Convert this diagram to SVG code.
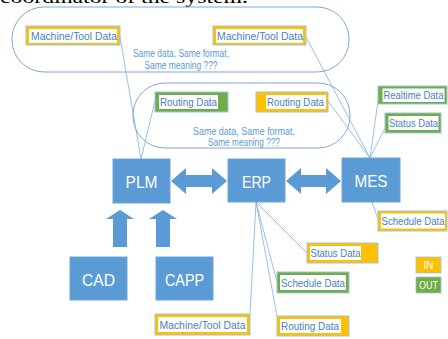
<svg xmlns="http://www.w3.org/2000/svg" width="448" height="339" viewBox="0 0 448 339">
<style>
.box{fill:#5B9BD5;stroke:#6FA6DA;stroke-width:1}
.big{font-family:"Liberation Sans",sans-serif;font-size:17px;fill:#fff;text-anchor:middle}
.pill{fill:#fff;stroke:#7EA8D6;stroke-width:1}
.note{font-family:"Liberation Sans",sans-serif;font-size:10px;fill:#5B9BD5;text-anchor:middle}
.or{fill:#FFC000;stroke:#9DC3E6;stroke-width:1}
.gr{fill:#70AD47;stroke:#9DC3E6;stroke-width:1}
.wh{fill:#fff}
.lbl{font-family:"Liberation Sans",sans-serif;font-size:11px;fill:#4A7EC4}
.sm{font-size:10px}
.leg{font-family:"Liberation Sans",sans-serif;font-size:10px;fill:#fff;text-anchor:middle}
.arr{fill:#5B9BD5}
.con line{stroke:#7FB0DE;stroke-width:0.8}
</style>
<text x="0" y="2.5" font-family="Liberation Serif,serif" font-size="18" fill="#000" textLength="248" lengthAdjust="spacingAndGlyphs">coordinator of the system.</text>
<g id="pill-top">
<rect class="pill" x="12" y="7" width="337" height="65" rx="32"/>
<text class="note" x="181" y="56.5" textLength="96" lengthAdjust="spacingAndGlyphs">Same data, Same format,</text>
<text class="note" x="181" y="69" textLength="73" lengthAdjust="spacingAndGlyphs">Same meaning ???</text>
</g>
<g id="pill-mid">
<rect class="pill" x="133" y="83" width="217" height="65" rx="32"/>
<text class="note" x="244" y="134.5" textLength="102" lengthAdjust="spacingAndGlyphs">Same data, Same format,</text>
<text class="note" x="244" y="145.5" textLength="72" lengthAdjust="spacingAndGlyphs">Same meaning ???</text>
</g>
<g class="con" id="connectors">
<line x1="120" y1="37" x2="141" y2="159"/>
<line x1="155" y1="101" x2="141" y2="159"/>
<line x1="306" y1="37" x2="370" y2="158"/>
<line x1="328" y1="101" x2="370" y2="158"/>
<line x1="378" y1="101" x2="370" y2="158"/>
<line x1="385" y1="128" x2="370" y2="158"/>
<line x1="372" y1="202" x2="378" y2="219"/>
<line x1="256" y1="202" x2="307" y2="253"/>
<line x1="256" y1="202" x2="277" y2="282"/>
<line x1="256" y1="202" x2="277" y2="316"/>
<line x1="256" y1="202" x2="250" y2="314"/>
<polygon class="arr" points="171,181 186,168 186,175 212,175 212,168 227,181 212,194 212,187 186,187 186,194"/>
<polygon class="arr" points="286,181 301,168 301,175 326,175 326,168 341,181 326,194 326,187 301,187 301,194"/>
<polygon class="arr" points="120,210 134,219 127,219 127,247 113,247 113,219 106,219"/>
<polygon class="arr" points="163,210 177,219 170,219 170,247 156,247 156,219 149,219"/>
</g>
<g id="PLM"><rect class="box" x="113" y="159" width="57" height="44"/><text class="big" x="141.5" y="187.5" textLength="32" lengthAdjust="spacingAndGlyphs">PLM</text></g>
<g id="ERP"><rect class="box" x="228" y="159" width="57" height="43"/><text class="big" x="256.5" y="187.5" textLength="29" lengthAdjust="spacingAndGlyphs">ERP</text></g>
<g id="MES"><rect class="box" x="342" y="158" width="58" height="44"/><text class="big" x="371" y="186.5" textLength="33" lengthAdjust="spacingAndGlyphs">MES</text></g>
<g id="CAD"><rect class="box" x="70" y="257" width="57" height="43"/><text class="big" x="98.5" y="285.5" textLength="33" lengthAdjust="spacingAndGlyphs">CAD</text></g>
<g id="CAPP"><rect class="box" x="156" y="257" width="57" height="43"/><text class="big" x="184.5" y="285.5" textLength="39" lengthAdjust="spacingAndGlyphs">CAPP</text></g>
<g id="lbl-mtd-top-left"><rect class="or" x="26" y="26" width="94" height="19"/><rect class="wh" x="29" y="29" width="88" height="14"/><text class="lbl" x="31" y="40" textLength="86" lengthAdjust="spacingAndGlyphs">Machine/Tool Data</text></g>
<g id="lbl-mtd-top-right"><rect class="or" x="213" y="26" width="93" height="19"/><rect class="wh" x="216" y="29" width="87" height="14"/><text class="lbl" x="217" y="40" textLength="86" lengthAdjust="spacingAndGlyphs">Machine/Tool Data</text></g>
<g id="lbl-routing-green"><rect class="gr" x="155" y="92" width="73" height="20"/><rect class="wh" x="159" y="95" width="59" height="14"/><text class="lbl" x="160" y="106" textLength="57" lengthAdjust="spacingAndGlyphs">Routing Data</text></g>
<g id="lbl-routing-orange"><rect class="or" x="256" y="92" width="72" height="20"/><rect class="wh" x="266" y="95" width="60" height="14"/><text class="lbl" x="267" y="106" textLength="57" lengthAdjust="spacingAndGlyphs">Routing Data</text></g>
<g id="lbl-realtime"><rect class="gr" x="378" y="86" width="69" height="18"/><rect class="wh" x="382.5" y="88.5" width="62" height="13.5"/><text class="lbl sm" x="383.5" y="99" textLength="60" lengthAdjust="spacingAndGlyphs">Realtime Data</text></g>
<g id="lbl-status-mes"><rect class="gr" x="385" y="113" width="56" height="20"/><rect class="wh" x="388.5" y="116" width="50" height="14"/><text class="lbl sm" x="389" y="127" textLength="49" lengthAdjust="spacingAndGlyphs">Status Data</text></g>
<g id="lbl-schedule-mes"><rect class="or" x="378" y="211" width="69" height="20"/><rect class="wh" x="381" y="213.5" width="64" height="15"/><text class="lbl sm" x="381.5" y="225" textLength="63" lengthAdjust="spacingAndGlyphs">Schedule Data</text></g>
<g id="lbl-status-erp"><rect class="or" x="307" y="243" width="71" height="20"/><rect class="wh" x="310" y="246" width="51" height="14"/><text class="lbl" x="310.5" y="257" textLength="50" lengthAdjust="spacingAndGlyphs">Status Data</text></g>
<g id="lbl-schedule-erp"><rect class="gr" x="277" y="272" width="72" height="21"/><rect class="wh" x="280" y="275" width="66" height="15"/><text class="lbl" x="281" y="286.5" textLength="64" lengthAdjust="spacingAndGlyphs">Schedule Data</text></g>
<g id="lbl-routing-erp"><rect class="or" x="277" y="316" width="72" height="20"/><rect class="wh" x="280" y="319" width="61" height="14"/><text class="lbl" x="281" y="330" textLength="58" lengthAdjust="spacingAndGlyphs">Routing Data</text></g>
<g id="lbl-mtd-erp"><rect class="or" x="155" y="314" width="95" height="21"/><rect class="wh" x="158" y="317" width="89" height="15"/><text class="lbl" x="159.5" y="328.5" textLength="86" lengthAdjust="spacingAndGlyphs">Machine/Tool Data</text></g>
<g id="legend-in"><rect x="416" y="257" width="25" height="16" fill="#FFC000" stroke="#9DC3E6" stroke-width="0.8"/><text class="leg" x="428.5" y="268.5">IN</text></g>
<g id="legend-out"><rect x="416" y="277" width="25" height="16" fill="#70AD47" stroke="#9DC3E6" stroke-width="0.8"/><text class="leg" x="428.5" y="288.5" textLength="19" lengthAdjust="spacingAndGlyphs">OUT</text></g>
</svg>
